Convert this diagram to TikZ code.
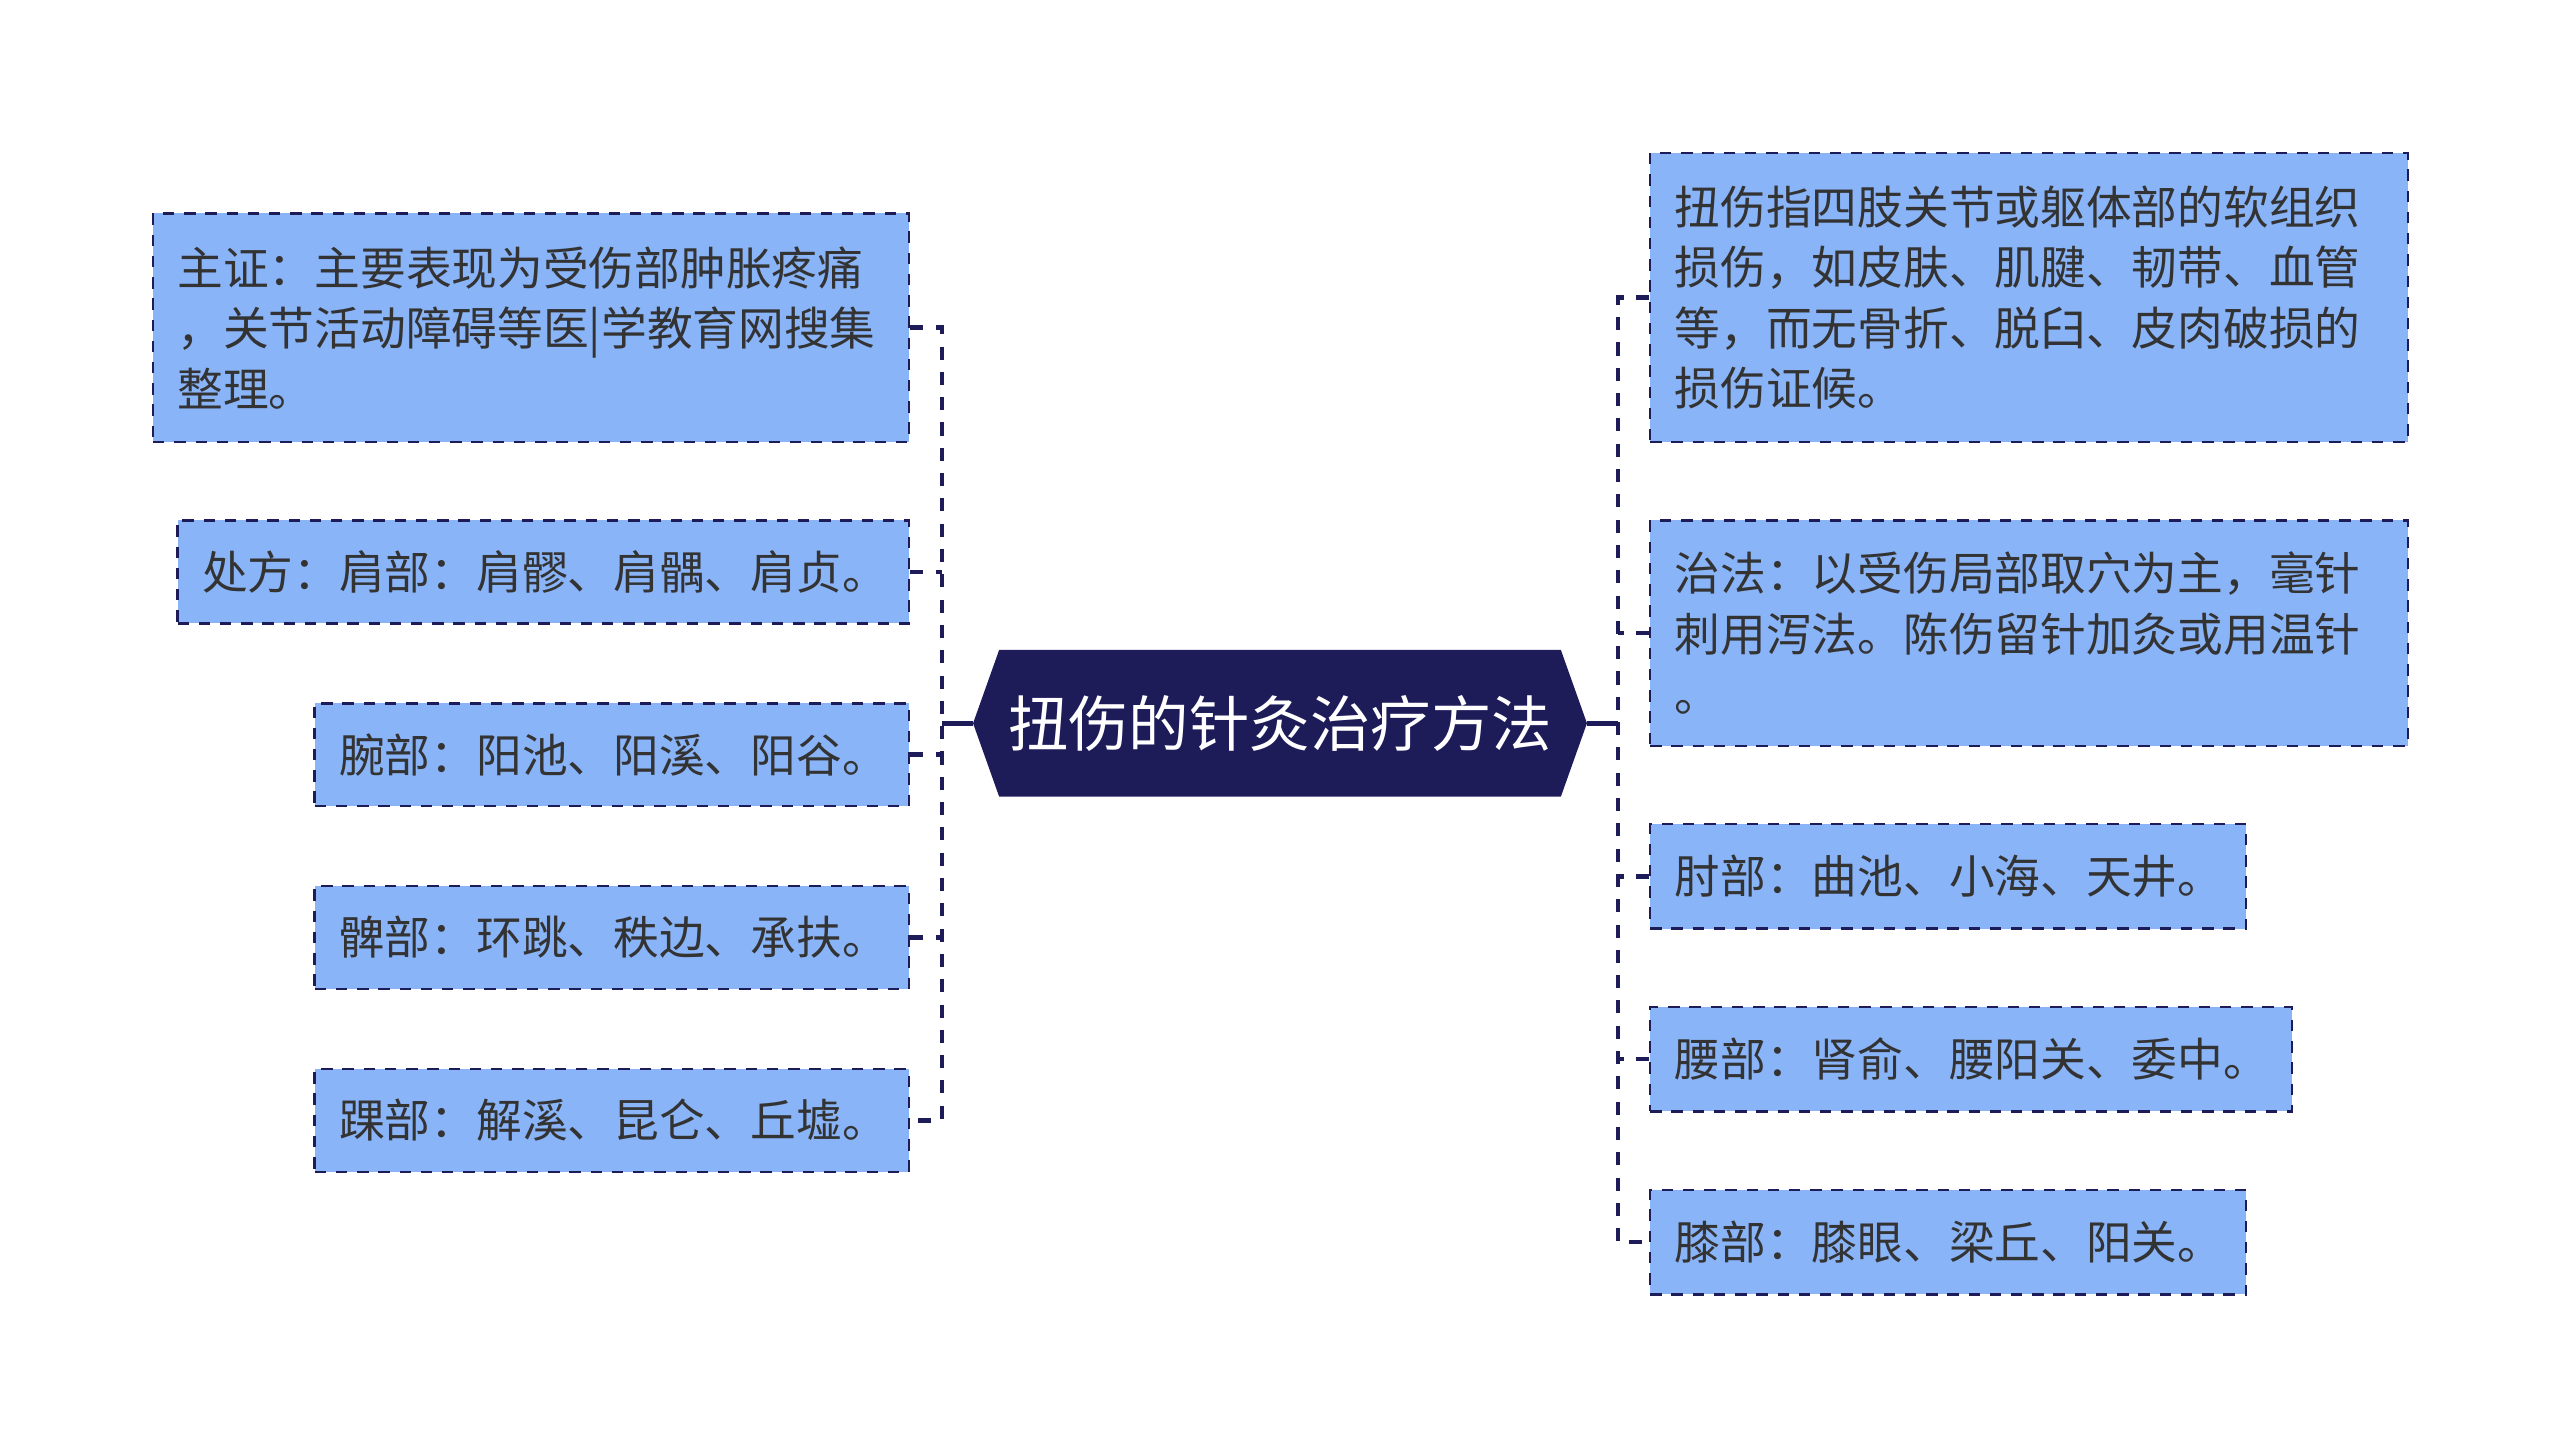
\documentclass[tikz,border=0pt]{standalone}
\usepackage{fontspec}
\newfontfamily\cjk{Noto Sans CJK SC}
\definecolor{boxfill}{RGB}{138,180,248}
\definecolor{navy}{RGB}{29,27,88}
\definecolor{txt}{RGB}{51,51,51}
\begin{document}
\begin{tikzpicture}[x=1pt,y=-1pt,
  box/.style={draw=navy, fill=boxfill, line width=1.5pt, dash pattern=on 7pt off 6pt,
    anchor=north west, align=left, inner xsep=15pt, inner ysep=0pt,
    font=\cjk\fontsize{28pt}{37pt}\selectfont, text=txt},
  conn/.style={draw=navy, line width=2.8pt, dash pattern=on 8pt off 7.5pt},
  hub/.style={draw=navy, line width=2.8pt},
  title/.style={font=\cjk\fontsize{37pt}{44pt}\selectfont, text=white, inner sep=0pt}]
\useasboundingbox (0,0) rectangle (1568,886.3);

% central hexagon
\fill[navy] (596,443) -- (612,398) -- (956,398) -- (972,443) -- (956,488) -- (612,488) -- cycle;
\node[title] (c) at (784,443) {扭伤的针灸治疗方法};
\coordinate (cL) at (596,443);
\coordinate (cR) at (972,443);
\coordinate (sl) at (577,443);
\coordinate (sr) at (991,443);

% left boxes
\node[box, text width=433pt, minimum height=140pt] (l1) at (93,130)
  {主证：主要表现为受伤部肿胀疼痛\\，关节活动障碍等医|学教育网搜集\\整理。};
\node[box, text width=418pt, minimum height=63pt] (l2) at (108,318)
  {处方：肩部：肩髎、肩髃、肩贞。};
\node[box, text width=334pt, minimum height=63pt] (l3) at (192,430)
  {腕部：阳池、阳溪、阳谷。};
\node[box, text width=334pt, minimum height=63pt] (l4) at (192,542)
  {髀部：环跳、秩边、承扶。};
\node[box, text width=334pt, minimum height=63pt] (l5) at (192,654)
  {踝部：解溪、昆仑、丘墟。};

% right boxes
\node[box, text width=434pt, minimum height=177pt] (r1) at (1010,93)
  {扭伤指四肢关节或躯体部的软组织\\损伤，如皮肤、肌腱、韧带、血管\\等，而无骨折、脱臼、皮肉破损的\\损伤证候。};
\node[box, text width=434pt, minimum height=138pt] (r2) at (1010,318)
  {治法：以受伤局部取穴为主，毫针\\刺用泻法。陈伤留针加灸或用温针\\。};
\node[box, text width=335pt, minimum height=64pt] (r3) at (1010,504)
  {肘部：曲池、小海、天井。};
\node[box, text width=363pt, minimum height=64pt] (r4) at (1010,616)
  {腰部：肾俞、腰阳关、委中。};
\node[box, text width=335pt, minimum height=64pt] (r5) at (1010,728)
  {膝部：膝眼、梁丘、阳关。};

% hub connectors
\draw[hub] (cL) -- (sl);
\draw[hub] (cR) -- (sr);

% left spine
\draw[conn] (l1.east) -- (l1.east -| sl) -- (l5.east -| sl) -- (l5.east);
\foreach \n in {l2,l3,l4} \draw[conn] (\n.east) -- (\n.east -| sl);

% right spine
\draw[conn] (r1.west) -- (r1.west -| sr) -- (r5.west -| sr) -- (r5.west);
\foreach \n in {r2,r3,r4} \draw[conn] (\n.west) -- (\n.west -| sr);
\end{tikzpicture}
\end{document}
